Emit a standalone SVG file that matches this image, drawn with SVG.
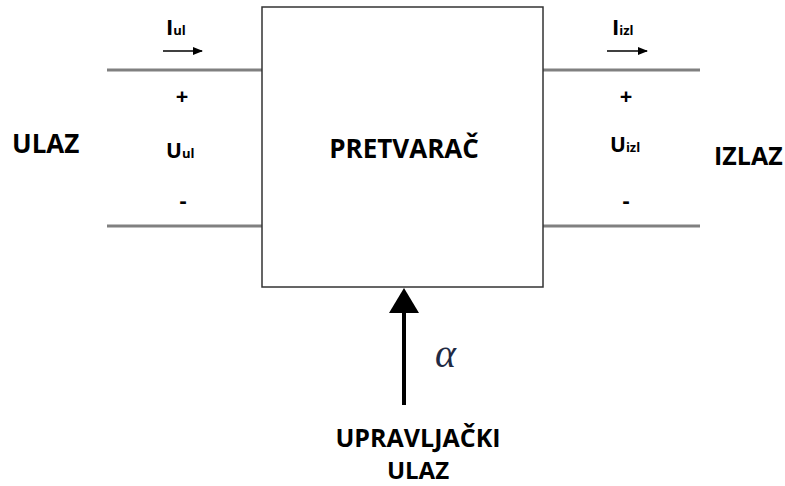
<svg xmlns="http://www.w3.org/2000/svg" width="785" height="486" viewBox="0 0 785 486">
<defs>
<marker id="sa" markerWidth="10" markerHeight="8" refX="9" refY="4" orient="auto" markerUnits="userSpaceOnUse"><path d="M0,0 L10,4 L0,8 z" fill="#000"/></marker>
</defs>
<style>
.t{font-family:"Open Sans","Liberation Sans",sans-serif;font-weight:bold;fill:#000}
.w{stroke:#808080;stroke-width:3;fill:none}
</style>
<rect width="785" height="486" fill="#fff"/>
<g id="connectors">
<line class="w" x1="107" y1="70" x2="262" y2="70"/>
<line class="w" x1="107" y1="226" x2="262" y2="226"/>
<line class="w" x1="543" y1="70" x2="700" y2="70"/>
<line class="w" x1="543" y1="226" x2="700" y2="226"/>
<line x1="163" y1="51" x2="202" y2="51" stroke="#000" stroke-width="1.5" marker-end="url(#sa)"/>
<line x1="607" y1="51" x2="647" y2="51" stroke="#000" stroke-width="1.5" marker-end="url(#sa)"/>
<line x1="404" y1="405" x2="404" y2="310" stroke="#000" stroke-width="4"/>
<path d="M404,288 L419,313 L389,313 z" fill="#000"/>
</g>
<g id="converter">
<rect x="262" y="7" width="281" height="280" fill="none" stroke="#333" stroke-width="1.5"/>
<text class="t" x="404" y="158" font-size="26" text-anchor="middle">PRETVARAČ</text>
</g>
<g id="input">
<text class="t" x="12" y="153" font-size="26">ULAZ</text>
<text class="t" x="166" y="35" font-size="22">I<tspan font-size="13">ul</tspan></text>
<text class="t" x="182" y="104" font-size="22" text-anchor="middle">+</text>
<text class="t" x="166" y="158" font-size="21">U<tspan font-size="13">ul</tspan></text>
<text class="t" x="183" y="208" font-size="22" text-anchor="middle">-</text>
</g>
<g id="output">
<text class="t" x="714" y="165" font-size="25">IZLAZ</text>
<text class="t" x="612" y="35" font-size="22">I<tspan font-size="13">izl</tspan></text>
<text class="t" x="626" y="104" font-size="22" text-anchor="middle">+</text>
<text class="t" x="610" y="152" font-size="21">U<tspan font-size="13">izl</tspan></text>
<text class="t" x="626" y="208" font-size="22" text-anchor="middle">-</text>
</g>
<g id="control">
<text x="435" y="367" font-family="'Liberation Serif',serif" font-style="italic" font-size="40" fill="#1f2a44">α</text>
<text class="t" x="418" y="447" font-size="25" text-anchor="middle">UPRAVLJAČKI</text>
<text class="t" x="418" y="479" font-size="24" text-anchor="middle">ULAZ</text>
</g>
</svg>
